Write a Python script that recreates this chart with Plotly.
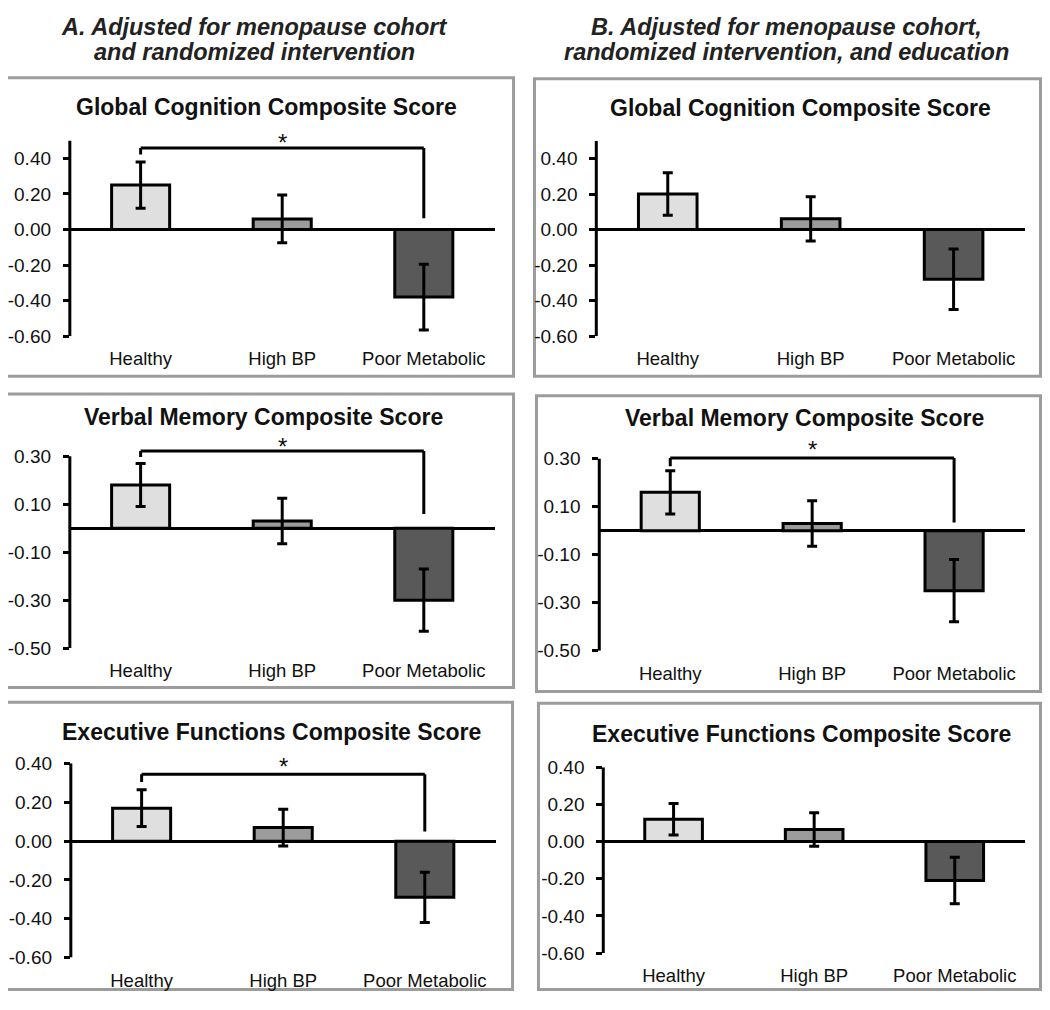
import plotly.graph_objects as go

# ---------------- data ----------------
categories = ["Healthy", "High BP", "Poor Metabolic"]
bar_colors = ["#dfdfdf", "#9b9b9b", "#595959"]

header_a = ["A. Adjusted for menopause cohort", "and randomized intervention"]
header_b = ["B. Adjusted for menopause cohort,", "randomized intervention, and education"]

titles = ["Global Cognition Composite Score",
          "Verbal Memory Composite Score",
          "Executive Functions Composite Score"]

global_ticks = [0.40, 0.20, 0.00, -0.20, -0.40, -0.60]
global_ticktext = ["0.40", "0.20", "0.00", "-0.20", "-0.40", "-0.60"]
verbal_ticks = [0.30, 0.10, -0.10, -0.30, -0.50]
verbal_ticktext = ["0.30", "0.10", "-0.10", "-0.30", "-0.50"]
exec_ticks = [0.40, 0.20, 0.00, -0.20, -0.40, -0.60]
exec_ticktext = ["0.40", "0.20", "0.00", "-0.20", "-0.40", "-0.60"]

a_global = [0.25, 0.06, -0.38]
a_global_err = [0.13, 0.135, 0.185]
b_global = [0.20, 0.06, -0.28]
b_global_err = [0.12, 0.125, 0.17]
a_verbal = [0.18, 0.03, -0.30]
a_verbal_err = [0.09, 0.095, 0.13]
b_verbal = [0.16, 0.03, -0.25]
b_verbal_err = [0.09, 0.095, 0.13]
a_exec = [0.17, 0.07, -0.29]
a_exec_err = [0.095, 0.095, 0.13]
b_exec = [0.12, 0.065, -0.21]
b_exec_err = [0.085, 0.09, 0.125]

# significance brackets: [bracket level, left end, right end, star level]
a_global_sig = [0.459, 0.422, 0.064, 0.52]
a_verbal_sig = [0.322, 0.297, 0.059, 0.36]
b_verbal_sig = [0.303, 0.269, 0.034, 0.36]
a_exec_sig = [0.345, 0.305, 0.05, 0.41]

# ---------------- page geometry ----------------
# the page body has an 8px margin, so the figure is sized to fit the 1050x1010 window
OFF = 8
FW, FH = 1050 - 2 * OFF, 1010 - 2 * OFF
FONT = "Liberation Sans, Arial, Helvetica, sans-serif"

panels = [
    dict(v=a_global, e=a_global_err, tv=global_ticks, tt=global_ticktext, sig=a_global_sig,
         ymin=-0.6, ytop=0.5, x0=67, x1=493, ybot=333, scale=181.5,
         box=(2, 69, 512, 374), tpos=(264, 99), title=titles[0]),
    dict(v=b_global, e=b_global_err, tv=global_ticks, tt=global_ticktext, sig=None,
         ymin=-0.6, ytop=0.5, x0=595, x1=1025, ybot=333, scale=181.5,
         box=(533, 70, 1047, 374), tpos=(800, 100), title=titles[0]),
    dict(v=a_verbal, e=a_verbal_err, tv=verbal_ticks, tt=verbal_ticktext, sig=a_verbal_sig,
         ymin=-0.5, ytop=0.3, x0=67, x1=493, ybot=651.7, scale=245,
         box=(2, 392, 512, 692), tpos=(261, 416), title=titles[1]),
    dict(v=b_verbal, e=b_verbal_err, tv=verbal_ticks, tt=verbal_ticktext, sig=b_verbal_sig,
         ymin=-0.5, ytop=0.3, x0=598, x1=1025, ybot=654.3, scale=245,
         box=(535, 394, 1047, 696), tpos=(804, 417), title=titles[1]),
    dict(v=a_exec, e=a_exec_err, tv=exec_ticks, tt=exec_ticktext, sig=a_exec_sig,
         ymin=-0.6, ytop=0.4, x0=68, x1=494, ybot=967.7, scale=198,
         box=(2, 707, 511, 1008), tpos=(269, 737), title=titles[2]),
    dict(v=b_exec, e=b_exec_err, tv=exec_ticks, tt=exec_ticktext, sig=None,
         ymin=-0.6, ytop=0.4, x0=602, x1=1025, ybot=963.3, scale=190,
         box=(537, 708, 1047, 1008), tpos=(801, 739), title=titles[2]),
]


def px_x(x):
    return (x - OFF) / FW


def px_y(y):
    return 1 - (y - OFF) / FH


fig = go.Figure()
shapes = []
annotations = []
layout = {}

for i, p in enumerate(panels):
    n = "" if i == 0 else str(i + 1)
    xa, ya = "x" + n, "y" + n
    rng_top = p["ytop"]
    if p["sig"] is not None:
        rng_top = max(rng_top, p["sig"][0] + 0.02, p["sig"][3] + 0.03)
    top_px = p["ybot"] - (rng_top - p["ymin"]) * p["scale"]

    fig.add_trace(go.Bar(
        x=categories, y=p["v"], xaxis=xa, yaxis=ya, width=0.41,
        marker=dict(color=bar_colors, line=dict(color="black", width=3)),
        error_y=dict(type="data", array=p["e"], color="black", thickness=3, width=5),
        showlegend=False, hoverinfo="skip",
    ))

    layout["xaxis" + n] = dict(
        domain=[px_x(p["x0"]), px_x(p["x1"])], anchor=ya, type="category",
        range=[-0.5, 2.5], showline=False, showgrid=False, zeroline=False,
        ticks="outside", ticklen=6, tickcolor="rgba(0,0,0,0)",
        tickfont=dict(family=FONT, size=18.5, color="#111"), fixedrange=True,
    )
    layout["yaxis" + n] = dict(
        domain=[px_y(p["ybot"]), px_y(top_px)], anchor=xa,
        range=[p["ymin"], rng_top], tickvals=p["tv"], ticktext=p["tt"],
        ticks="outside", ticklen=6, tickwidth=3, tickcolor="black",
        showgrid=False, showline=False, zeroline=True, zerolinecolor="black",
        zerolinewidth=3, ticklabelstandoff=8,
        tickfont=dict(family=FONT, size=19, color="#111"), fixedrange=True,
    )

    # y-axis spine
    shapes.append(dict(type="line", xref=xa + " domain", yref=ya, x0=0, x1=0,
                       y0=p["ymin"], y1=p["ytop"], line=dict(color="black", width=3)))

    # significance bracket and star
    if p["sig"] is not None:
        lvl, lend, rend, star = p["sig"]
        for (x0, y0, x1, y1) in [(0, lend, 0, lvl), (0, lvl, 2, lvl), (2, lvl, 2, rend)]:
            shapes.append(dict(type="line", xref=xa, yref=ya, x0=x0, x1=x1, y0=y0, y1=y1,
                               line=dict(color="black", width=3)))
        annotations.append(dict(x=1, y=star, xref=xa, yref=ya, text="*", showarrow=False,
                                yanchor="middle", yshift=-5,
                                font=dict(family=FONT, size=24, color="#111")))

    # panel frame
    l, t, r, b = p["box"]
    b = min(b, OFF + FH - 1.5)
    r = min(r, OFF + FW - 1.5)
    shapes.append(dict(type="rect", xref="paper", yref="paper",
                       x0=px_x(l), x1=px_x(r), y0=px_y(b), y1=px_y(t),
                       line=dict(color="#9c9c9c", width=3), layer="below"))

    # panel title
    annotations.append(dict(x=px_x(p["tpos"][0]), y=px_y(p["tpos"][1]), xref="paper", yref="paper",
                            text="<b>" + p["title"] + "</b>", showarrow=False,
                            xanchor="center", yanchor="middle",
                            font=dict(family=FONT, size=23, color="#111")))

# column headers
for lines, cx in [(header_a, 252), (header_b, 786)]:
    for line, cy in zip(lines, [17, 43]):
        annotations.append(dict(x=px_x(cx), y=px_y(cy), xref="paper", yref="paper",
                                text="<b><i>" + line + "</i></b>", showarrow=False,
                                xanchor="center", yanchor="middle",
                                font=dict(family=FONT, size=23.5, color="#222")))

fig.update_layout(
    width=FW, height=FH, margin=dict(l=0, r=0, t=0, b=0),
    paper_bgcolor="white", plot_bgcolor="white",
    shapes=shapes, annotations=annotations, bargap=0.5,
    **layout,
)

fig.write_html("out.html")
